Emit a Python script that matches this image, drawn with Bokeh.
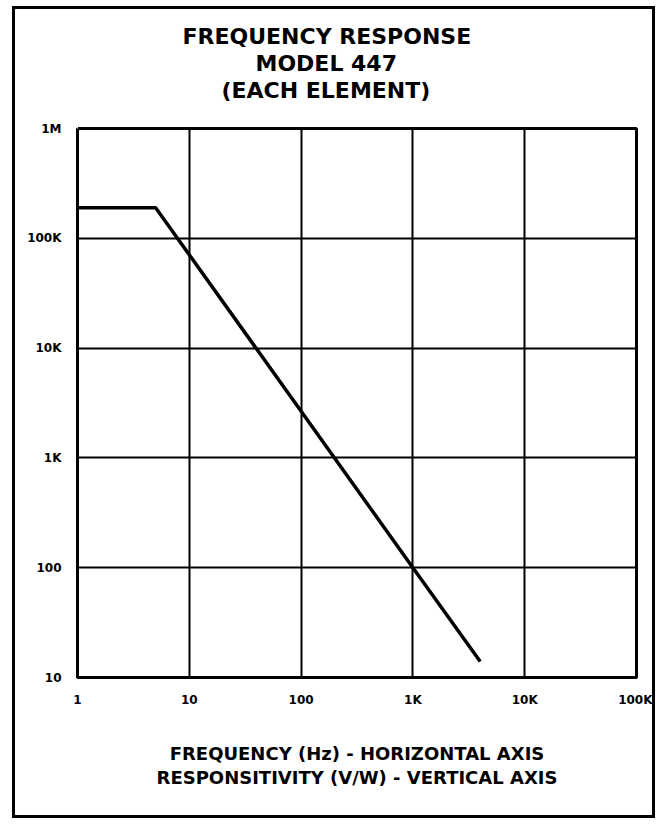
from bokeh.plotting import figure
from bokeh.models import FixedTicker, Title, LogAxis
from bokeh.embed import file_html
from bokeh.resources import INLINE

# Data
freq_hz = [1, 5, 1000, 4000]
resp_vw = [190000, 190000, 100, 14]

x_ticks = [1, 10, 100, 1000, 10000, 100000]
x_labels = ["1", "10", "100", "1K", "10K", "100K"]
y_ticks = [10, 100, 1000, 10000, 100000, 1000000]
y_labels = ["10", "100", "1K", "10K", "100K", "1M"]

title_lines = ["FREQUENCY RESPONSE", "MODEL 447", "(EACH ELEMENT)"]
caption_lines = ["FREQUENCY (Hz) - HORIZONTAL AXIS", "RESPONSITIVITY (V/W) - VERTICAL AXIS"]

FONT = "DejaVu Sans"
W, H = 643, 812
FL, FR, FT, FB = 62, 621, 119, 668   # frame edges inside the figure

p = figure(width=W, height=H, x_axis_type="log", y_axis_type="log",
           x_range=(1, 100000), y_range=(10, 1000000),
           output_backend="svg", toolbar_location=None,
           min_border_left=FL, min_border_right=W - FR,
           min_border_top=FT, min_border_bottom=H - FB)

p.line(freq_hz, resp_vw, line_color="black", line_width=3.5)

for ax, ticks, labels in ((p.xaxis, x_ticks, x_labels), (p.yaxis, y_ticks, y_labels)):
    ax.ticker = FixedTicker(ticks=ticks)
    ax.major_label_overrides = {t: l for t, l in zip(ticks, labels)}
    ax.major_tick_line_color = None
    ax.minor_tick_line_color = None
    ax.axis_line_color = None
    ax.major_label_text_font = FONT
    ax.major_label_text_font_style = "bold"
    ax.major_label_text_font_size = "12px"
    ax.major_label_text_color = "black"

p.yaxis.major_label_standoff = 10
p.xaxis.major_label_standoff = 9
p.xaxis.major_label_text_align = "left"

# caption (two lines) as the x axis label
p.xaxis.axis_label = "\n".join(caption_lines)
p.xaxis.axis_label_standoff = 33
p.xaxis.axis_label_text_font = FONT
p.xaxis.axis_label_text_font_style = "bold"
p.xaxis.axis_label_text_font_size = "18px"
p.xaxis.axis_label_text_line_height = 1.15
p.xaxis.axis_label_text_color = "black"

p.xgrid.ticker = FixedTicker(ticks=x_ticks)
p.ygrid.ticker = FixedTicker(ticks=y_ticks)
for g in (p.xgrid, p.ygrid):
    g.grid_line_color = "black"
    g.grid_line_width = 2
    g.grid_line_alpha = 1
    g.minor_grid_line_color = None

p.outline_line_color = "black"
p.outline_line_width = 3
p.outline_line_alpha = 1

# blank spacer between the frame and the heading: one white tick on the frame corner
spacer = LogAxis(ticker=FixedTicker(ticks=[x_ticks[0]]), major_tick_out=26, major_tick_in=0,
                 major_tick_line_color="white", major_tick_line_width=1,
                 minor_tick_line_color=None, axis_line_color=None,
                 major_label_overrides={x_ticks[0]: " "}, major_label_text_alpha=0,
                 major_label_text_font_size="1px", major_label_standoff=0)
p.add_layout(spacer, "above")

# heading, nearest line first; left aligned with offsets to centre it like the original
for txt, off in zip(reversed(title_lines), (144, 178, 105)):
    p.add_layout(Title(text=txt, align="left", offset=off, text_font=FONT,
                       text_font_style="bold", text_font_size="22px",
                       text_color="black", standoff=0), "above")

# outer page frame
p.styles = {"border": "3px solid black", "margin-left": "12px", "margin-top": "6px"}

open("out.html", "w").write(file_html(p, INLINE))
